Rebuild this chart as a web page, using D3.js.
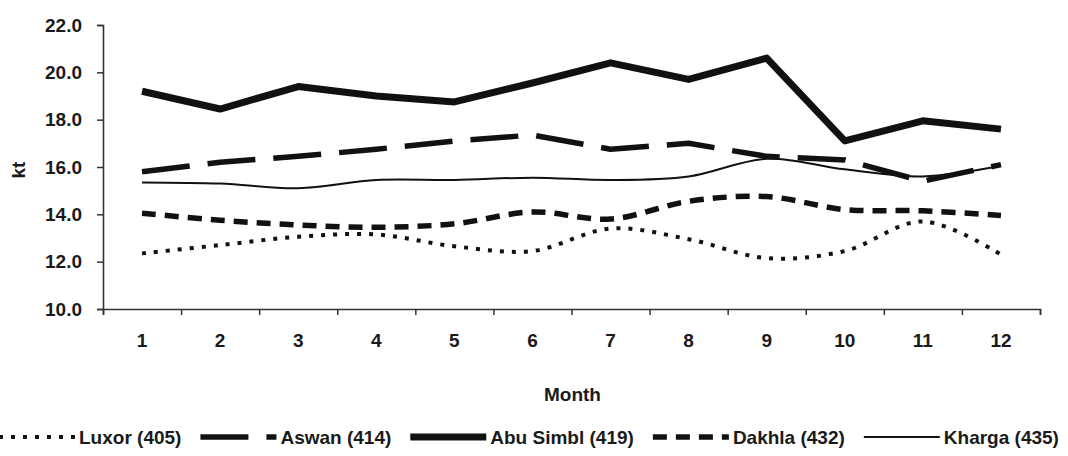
<!DOCTYPE html>
<html>
<head>
<meta charset="utf-8">
<script src="https://cdn.jsdelivr.net/npm/d3@7"></script>
<style>
  body { margin: 0; background: #fff; }
  svg text { font-family: "Liberation Sans", Arial, sans-serif; font-weight: bold; fill: #1a1a1a; }
</style>
</head>
<body>
<svg width="1068" height="456"></svg>
<script>
// values (kt per month)
var months = [1, 2, 3, 4, 5, 6, 7, 8, 9, 10, 11, 12];
var luxor    = [12.35, 12.7, 13.05, 13.15, 12.65, 12.45, 13.4, 12.95, 12.15, 12.45, 13.7, 12.3];
var aswan    = [15.8, 16.2, 16.45, 16.75, 17.1, 17.35, 16.75, 17.0, 16.45, 16.3, 15.4, 16.1];
var abuSimbl = [19.2, 18.45, 19.4, 19.0, 18.75, 19.55, 20.4, 19.7, 20.6, 17.1, 17.95, 17.6];
var dakhla   = [14.05, 13.75, 13.55, 13.45, 13.6, 14.1, 13.8, 14.55, 14.75, 14.2, 14.15, 13.95];
var kharga   = [15.35, 15.3, 15.1, 15.45, 15.45, 15.55, 15.45, 15.6, 16.35, 15.9, 15.6, 16.05];
var seriesNames = ["Luxor (405)", "Aswan (414)", "Abu Simbl (419)", "Dakhla (432)", "Kharga (435)"];
var yTicks = [10, 12, 14, 16, 18, 20, 22];

var series = [
  { name: seriesNames[0], values: luxor,    width: 4,   dash: "4 8",   smooth: true },
  { name: seriesNames[1], values: aswan,    width: 5.5, dash: "48 18", smooth: false },
  { name: seriesNames[2], values: abuSimbl, width: 7,   dash: null,    smooth: false },
  { name: seriesNames[3], values: dakhla,   width: 5.5, dash: "14 9",  smooth: true },
  { name: seriesNames[4], values: kharga,   width: 2,   dash: null,    smooth: true }
];

var svg = d3.select("svg");
var plotLeft = 103, plotRight = 1040, plotTop = 25, plotBottom = 309;

var x = d3.scaleBand().domain(months).range([plotLeft, plotRight]).padding(0);
var xEdge = d3.scaleLinear().domain([0, months.length]).range([plotLeft, plotRight]);
var y = d3.scaleLinear().domain([10, 22]).range([plotBottom, plotTop]);

// y axis
svg.append("g")
    .attr("transform", "translate(" + plotLeft + ",0)")
    .call(d3.axisLeft(y).tickValues(yTicks).tickFormat(d3.format(".1f")).tickSize(6).tickPadding(15));

// x axis: boundary ticks + centred labels
svg.append("g")
    .attr("transform", "translate(0," + plotBottom + ")")
    .call(d3.axisBottom(xEdge).tickValues(d3.range(months.length + 1)).tickFormat("").tickSize(6));

var gx = svg.append("g")
    .attr("transform", "translate(0," + plotBottom + ")")
    .call(d3.axisBottom(x).tickSize(0).tickPadding(25));
gx.select(".domain").remove();

svg.selectAll(".domain").attr("stroke", "#333").attr("stroke-width", 1.6);
svg.selectAll(".tick line").attr("stroke", "#333").attr("stroke-width", 1.5);
svg.selectAll(".tick text").attr("font-size", 19).style("font-family", "Liberation Sans, Arial, sans-serif").attr("fill", "#1a1a1a");

svg.append("text")
    .attr("x", (plotLeft + plotRight) / 2 + 1)
    .attr("y", 401)
    .attr("text-anchor", "middle")
    .attr("font-size", 19)
    .text("Month");

svg.append("text")
    .attr("transform", "translate(25,170) rotate(-90)")
    .attr("text-anchor", "middle")
    .attr("font-size", 19)
    .text("kt");

// lines
series.forEach(function(s) {
  var line = d3.line()
      .x(function(d, i) { return x(months[i]) + x.bandwidth() / 2; })
      .y(function(d) { return y(d); })
      .curve(s.smooth ? d3.curveCatmullRom.alpha(0.5) : d3.curveLinear);
  svg.append("path")
      .datum(s.values)
      .attr("fill", "none")
      .attr("stroke", "#111")
      .attr("stroke-width", s.width)
      .attr("stroke-dasharray", s.dash)
      .attr("stroke-linejoin", "round")
      .attr("d", line);
});

// legend
var legend = svg.append("g");
var lx = -1, ly = 437;
series.forEach(function(s) {
  legend.append("line")
      .attr("x1", lx).attr("x2", lx + 76)
      .attr("y1", ly).attr("y2", ly)
      .attr("stroke", "#111")
      .attr("stroke-width", s.width)
      .attr("stroke-dasharray", s.dash);
  var t = legend.append("text")
      .attr("x", lx + 80)
      .attr("y", ly + 7)
      .attr("font-size", 19)
      .text(s.name);
  lx = lx + 80 + t.node().getComputedTextLength() + 19;
});
</script>
</body>
</html>
